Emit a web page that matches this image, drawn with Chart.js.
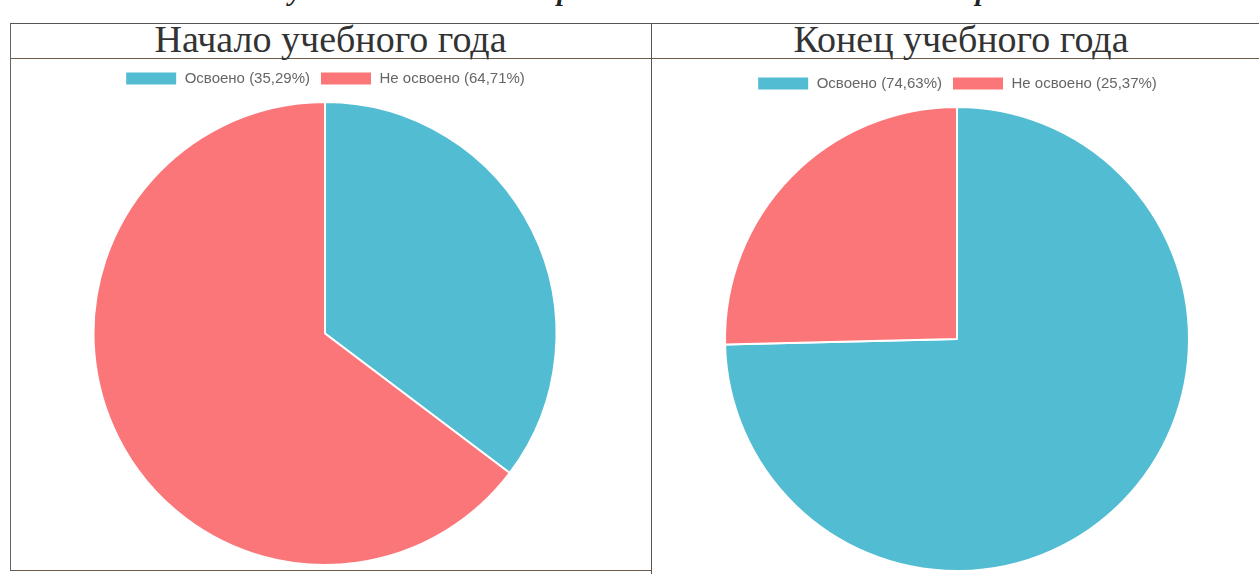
<!DOCTYPE html>
<html>
<head>
<meta charset="utf-8">
<script src="https://cdn.jsdelivr.net/npm/chart.js@4.4.0/dist/chart.umd.min.js"></script>
<style>
    body { margin: 0; background: #fff; width: 1259px; height: 574px; overflow: hidden; position: relative; }
    .cap { position: absolute; top: -25px; left: 250px; width: 820px; text-align: center; font: italic bold 28px "Liberation Serif", serif; color: #222; white-space: nowrap; }
    .tbl { position: absolute; left: 10px; top: 23px; width: 1300px; height: 40px; border-top: 1.5px solid #555; border-left: 1px solid #666; }
    .lcell { position: absolute; left: 10px; top: 58px; width: 641px; height: 512px; border-left: 1px solid #666; border-bottom: 1.5px solid #6a5a4a; }
    .hline { position: absolute; left: 10px; top: 58px; width: 1259px; border-top: 1.5px solid #6a5a4a; }
    .vline { position: absolute; left: 651px; top: 23px; height: 551px; border-left: 1px solid #555; }
    .title { position: absolute; top: 17px; text-align: center; font: 38px "Liberation Serif", serif; color: #333; }
    .box { position: absolute; top: 60px; }
</style>
</head>
<body>
<div class="cap">Результаты освоения образовательной области «Речевое развитие»</div>
<div class="tbl"></div>
<div class="lcell"></div>
<div class="hline"></div>
<div class="vline"></div>
<div class="title" style="left:10px;width:641px">Начало учебного года</div>
<div class="title" style="left:652px;width:618px">Конец учебного года</div>
<div class="box" style="left:11px;width:640px;height:510px"><canvas id="chart-start"></canvas></div>
<div class="box" style="left:652px;width:610px;height:514px"><canvas id="chart-end"></canvas></div>
<script>
let labels = ['Освоено', 'Не освоено']
let startValues = [35.29, 64.71]
let endValues = [74.63, 25.37]
let colors = ['#52bcd2', '#fb7679']

// extra gap under the legend
let legendGap = {
    id: 'legendGap',
    beforeInit: function (chart) {
        let fit = chart.legend.fit
        chart.legend.fit = function () {
            fit.bind(chart.legend)()
            this.height += 5
        }
    }
}

function makePie(id, values, padding) {
    let ctx = document.getElementById(id).getContext('2d')
    return new Chart(ctx, {
        type: 'pie',
        data: {
            labels: labels.map(function (l, i) { return l + ' (' + values[i].toFixed(2).replace('.', ',') + '%)' }),
            datasets: [{
                data: values,
                backgroundColor: colors,
                borderColor: '#fff',
                borderWidth: 2
            }]
        },
        options: {
            responsive: true,
            maintainAspectRatio: false,
            animation: false,
            layout: { padding: padding },
            plugins: {
                legend: {
                    position: 'top',
                    labels: {
                        boxWidth: 52,
                        boxHeight: 14,
                        padding: 10,
                        color: '#666',
                        font: { family: 'Liberation Sans', size: 15 }
                    }
                },
                tooltip: { enabled: false }
            }
        },
        plugins: [legendGap]
    })
}

makePie('chart-start', startValues, { top: 1, bottom: 4, right: 12 })
makePie('chart-end', endValues, { top: 6, bottom: 2, right: 0 })
</script>
</body>
</html>
